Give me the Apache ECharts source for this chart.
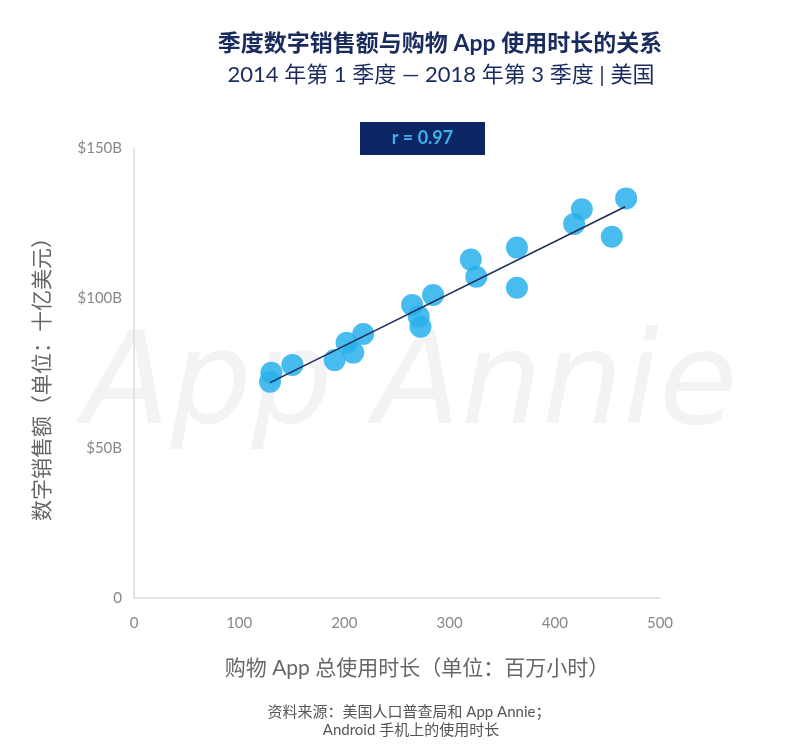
<!DOCTYPE html>
<html><head><meta charset="utf-8">
<script src="https://cdn.jsdelivr.net/npm/echarts@6/dist/echarts.min.js"></script>
<style>html,body{margin:0;padding:0;background:#fff}#c{width:785px;height:746px}</style>
</head><body><div id="c"></div>
<script>
// Data: quarterly shopping app hours (millions) vs digital sales ($B)
const hours = [129.3,130.6,150.6,190.7,202.1,208.4,217.9,264.4,270.7,272.3,284.3,320.2,325.4,364,364,418.4,425.7,454.2,467.8];
const sales = [72.1,75.1,77.7,79.3,85.1,81.8,88,97.7,93.8,90.4,101,112.8,107.1,116.8,103.4,124.7,129.6,120.4,133.2];
const trendX = [129.3,466.8];
const trendY = [71.8,130.4];
const yTicks = ['0','$50B','$100B','$150B'];
const xTicks = ['0','100','200','300','400','500'];

const chart = echarts.init(document.getElementById('c'));
const font = 'Lato, "Noto Sans CJK SC", sans-serif';
chart.setOption({
  animation:false,
  textStyle:{fontFamily:font},
  grid:{left:134,right:125,top:148,bottom:148},
  graphic:[
    {type:'text',x:440,y:44,style:{text:'季度数字销售额与购物 App 使用时长的关系',font:'bold 23px '+font,fill:'#1a2b5e',align:'center',verticalAlign:'middle'},z:10},
    {type:'text',x:441,y:75,style:{text:'2014 年第 1 季度 — 2018 年第 3 季度 | 美国',font:'22px '+font,fill:'#1a2b5e',align:'center',verticalAlign:'middle'},z:10},
    {type:'rect',shape:{x:360,y:122,width:125,height:33},style:{fill:'#0c2563'},z:10},
    {type:'text',x:422.5,y:138.5,style:{text:'r = 0.97',font:'bold 18px '+font,fill:'#3bb4ec',align:'center',verticalAlign:'middle'},z:11},
    {type:'text',x:410,y:390,style:{text:'App Annie',font:'italic 128px "DejaVu Sans", sans-serif',fill:'#f3f3f6',align:'center',verticalAlign:'middle'},z:-1,silent:true},
    {type:'text',x:42,y:374,rotation:Math.PI/2,style:{text:'数字销售额（单位：十亿美元）',font:'21px '+font,fill:'#666',align:'center',verticalAlign:'middle'},z:10},
    {type:'text',x:417,y:668,style:{text:'购物 App 总使用时长（单位：百万小时）',font:'21px '+font,fill:'#666',align:'center',verticalAlign:'middle'},z:10},
    {type:'text',x:409,y:712,style:{text:'资料来源：美国人口普查局和 App Annie；',font:'15px '+font,fill:'#555',align:'center',verticalAlign:'middle'},z:10},
    {type:'text',x:411,y:730,style:{text:'Android 手机上的使用时长',font:'15px '+font,fill:'#555',align:'center',verticalAlign:'middle'},z:10}
  ],
  xAxis:{type:'value',min:0,max:500,interval:100,
    axisLine:{show:true,lineStyle:{color:'#dcdcdc',width:1.5}},axisTick:{show:false},splitLine:{show:false},
    axisLabel:{color:'#888',fontSize:15,margin:18,formatter:(v)=>xTicks[Math.round(v/100)]}},
  yAxis:{type:'value',min:0,max:150,interval:50,
    axisLine:{show:true,lineStyle:{color:'#dcdcdc',width:1.5}},axisTick:{show:false},splitLine:{show:false},
    axisLabel:{color:'#888',fontSize:15,margin:12,formatter:(v)=>yTicks[Math.round(v/50)]}},
  series:[
    {type:'scatter',data:hours.map((h,i)=>[h,sales[i]]),symbolSize:22,
      itemStyle:{color:'#29b0ec',opacity:0.85},z:2},
    {type:'line',data:trendX.map((x,i)=>[x,trendY[i]]),symbol:'none',
      lineStyle:{color:'#1f2d57',width:1.6},z:3}
  ]
});
</script></body></html>
